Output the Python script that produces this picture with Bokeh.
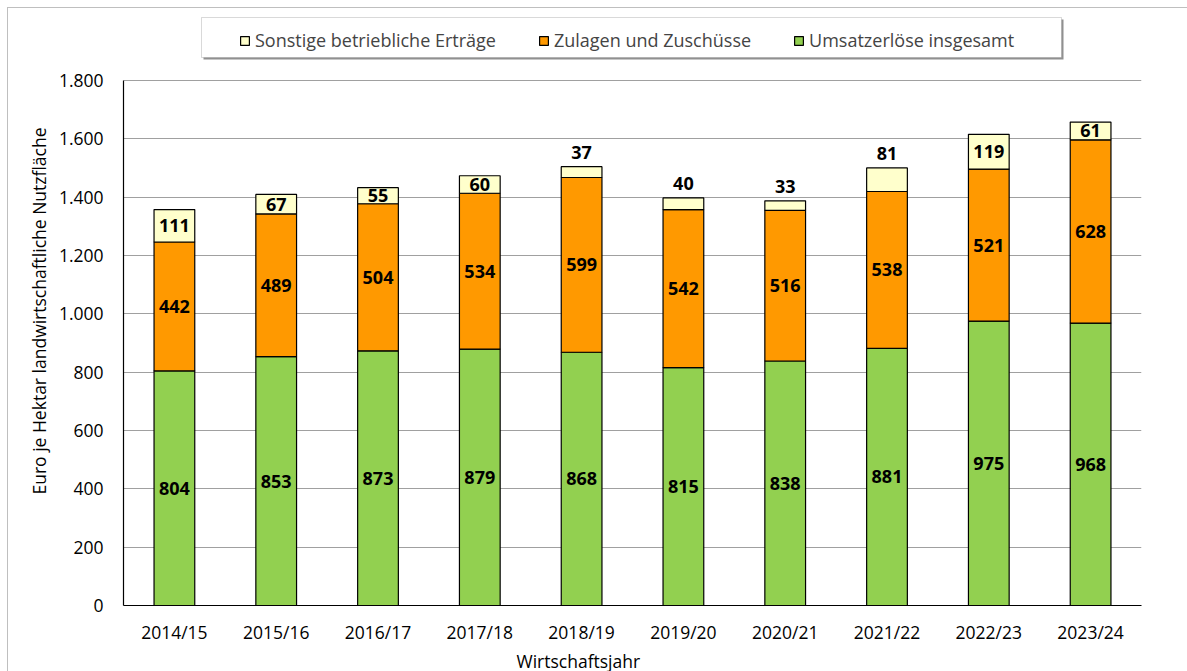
from bokeh.plotting import figure
from bokeh.models import ColumnDataSource, FixedTicker, Legend, LegendItem, Title, BoxAnnotation
from bokeh.core.properties import value
from bokeh.embed import file_html
from bokeh.resources import INLINE

years = ["2014/15", "2015/16", "2016/17", "2017/18", "2018/19",
         "2019/20", "2020/21", "2021/22", "2022/23", "2023/24"]
umsatz = [804, 853, 873, 879, 868, 815, 838, 881, 975, 968]
zulagen = [442, 489, 504, 534, 599, 542, 516, 538, 521, 628]
sonstige = [111, 67, 55, 60, 37, 40, 33, 81, 119, 61]
sonstige_label_outside = [False, False, False, False, True, True, True, True, False, False]
y_ticks = [0, 200, 400, 600, 800, 1000, 1200, 1400, 1600, 1800]

FONT = "Open Sans"
FS = "17.5px"
c_green = "#92D050"
c_orange = "#FF9900"
c_yellow = "#FFFFCC"

src = ColumnDataSource(dict(x=years, umsatz=umsatz, zulagen=zulagen, sonstige=sonstige))

# y range extends above 1800 to leave room for the legend inside the frame
p = figure(x_range=years, y_range=(0, 2036), width=1180, height=664,
           output_backend="svg", toolbar_location=None,
           min_border_left=115, min_border_right=47, min_border_bottom=62, min_border_top=3)

r = p.vbar_stack(["umsatz", "zulagen", "sonstige"], x="x", width=0.4, source=src,
                 fill_color=[c_green, c_orange, c_yellow], line_color="black", line_width=1.2)

# data labels
lab_x, lab_y, lab_t = [], [], []
for i, yr in enumerate(years):
    u, z, s = umsatz[i], zulagen[i], sonstige[i]
    lab_x += [yr, yr]
    lab_y += [u / 2, u + z / 2]
    lab_t += [str(u), str(z)]
    lab_x.append(yr)
    if sonstige_label_outside[i]:
        lab_y.append(u + z + s + 48)
    else:
        lab_y.append(u + z + s / 2)
    lab_t.append(str(s))
p.text(x=lab_x, y=lab_y, text=lab_t, text_align="center", text_baseline="middle",
       text_font=value(FONT), text_font_style="bold", text_font_size="18px", text_color="black")

# axes
p.yaxis.ticker = FixedTicker(ticks=y_ticks)
p.yaxis.bounds = (0, 1800)
p.yaxis.major_label_overrides = {t: f"{t:,}".replace(",", ".") for t in y_ticks}
for ax in (p.xaxis[0], p.yaxis[0]):
    ax.major_tick_line_color = None
    ax.minor_tick_line_color = None
    ax.major_label_text_font = FONT
    ax.major_label_text_font_size = FS
    ax.major_label_text_color = "black"
    ax.axis_line_color = "black"
    ax.axis_line_width = 1.2
p.yaxis.major_label_standoff = 14
p.xaxis.major_label_standoff = 8

p.add_layout(Title(text="Wirtschaftsjahr", align="left", offset=393,
                   text_font=FONT, text_font_size=FS, text_font_style="normal",
                   text_color="black", standoff=0), "below")
p.add_layout(Title(text="Euro je Hektar landwirtschaftliche Nutzfläche", align="left", offset=111,
                   text_font=FONT, text_font_size=FS, text_font_style="normal",
                   text_color="black", standoff=10), "left")

p.xgrid.grid_line_color = None
p.ygrid.grid_line_color = "#A0A0A0"
p.ygrid.grid_line_width = 1.2
p.outline_line_color = None
p.x_range.range_padding = 0.0

# legend frame (with shadow)
p.add_layout(BoxAnnotation(left=80, right=940, bottom=546, top=586,
                           left_units="screen", right_units="screen",
                           bottom_units="screen", top_units="screen",
                           fill_color="#909090", fill_alpha=1, line_color=None, level="overlay"))
p.add_layout(BoxAnnotation(left=78, right=938, bottom=548, top=588,
                           left_units="screen", right_units="screen",
                           bottom_units="screen", top_units="screen",
                           fill_color="white", fill_alpha=1, line_color="#808080",
                           line_width=1, level="overlay"))

legend = Legend(items=[LegendItem(label="Sonstige betriebliche Erträge", renderers=[r[2]]),
                       LegendItem(label="Zulagen und Zuschüsse", renderers=[r[1]]),
                       LegendItem(label="Umsatzerlöse insgesamt", renderers=[r[0]])],
                orientation="horizontal", location=(116, 553),
                label_text_font=FONT, label_text_font_size="18px",
                glyph_width=11, glyph_height=11, spacing=42, padding=6,
                label_standoff=5, margin=0,
                border_line_color=None, background_fill_alpha=0)
p.add_layout(legend, "center")
p.styles = {"margin-left": "7px", "margin-top": "7px",
            "border-top": "1px solid #BFBFBF", "border-left": "1px solid #BFBFBF"}

open("out.html", "w").write(file_html(p, INLINE))
